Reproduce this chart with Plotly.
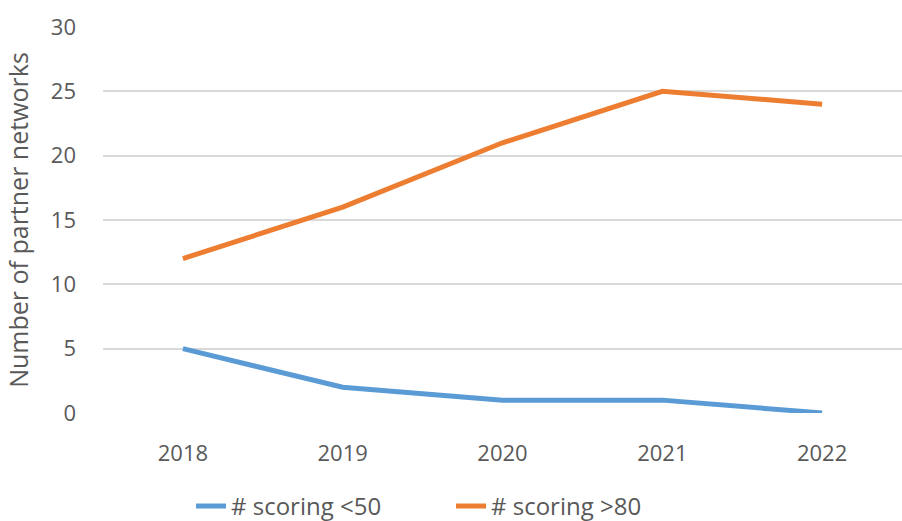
import plotly.graph_objects as go

# Partner network scores by year
years = ["2018", "2019", "2020", "2021", "2022"]
scoring_below_50 = [5, 2, 1, 1, 0]
scoring_above_80 = [12, 16, 21, 25, 24]

y_ticks = [0, 5, 10, 15, 20, 25, 30]

FONT = "Open Sans"
TEXT_COLOR = "#595959"

fig = go.Figure()
fig.add_trace(go.Scatter(
    x=years, y=scoring_below_50, mode="lines", name="# scoring <50",
    line=dict(color="#5B9BD5", width=5, shape="linear"),
))
fig.add_trace(go.Scatter(
    x=years, y=scoring_above_80, mode="lines", name="# scoring >80",
    line=dict(color="#ED7D31", width=5, shape="linear"),
))

fig.update_layout(
    width=902, height=521,
    margin=dict(l=103, r=0, t=27, b=108, autoexpand=False),
    paper_bgcolor="white", plot_bgcolor="white",
    font=dict(family=FONT, size=22, color=TEXT_COLOR),
    showlegend=True,
    legend=dict(
        orientation="h", xref="container", x=0.5, xanchor="center",
        yref="container", y=0.028, yanchor="middle",
        font=dict(size=24, color=TEXT_COLOR),
        itemwidth=30, traceorder="normal",
        entrywidth=215, entrywidthmode="pixels",
    ),
)
fig.update_xaxes(
    type="category", range=[-0.5, 4.5], showgrid=False, zeroline=False,
    showline=False, ticks="", tickfont=dict(size=22, color=TEXT_COLOR),
    ticklabelstandoff=25, automargin=False,
)
fig.update_yaxes(
    range=[0, 30], tickvals=y_ticks, showgrid=True, gridcolor="#D9D9D9",
    gridwidth=1.5, zeroline=False, showline=False, ticks="",
    tickfont=dict(size=22, color=TEXT_COLOR), ticklabelstandoff=26,
    automargin=False,
    title=dict(text="Number of partner networks", font=dict(size=25, color=TEXT_COLOR),
               standoff=15),
)

fig.write_html("out.html")
